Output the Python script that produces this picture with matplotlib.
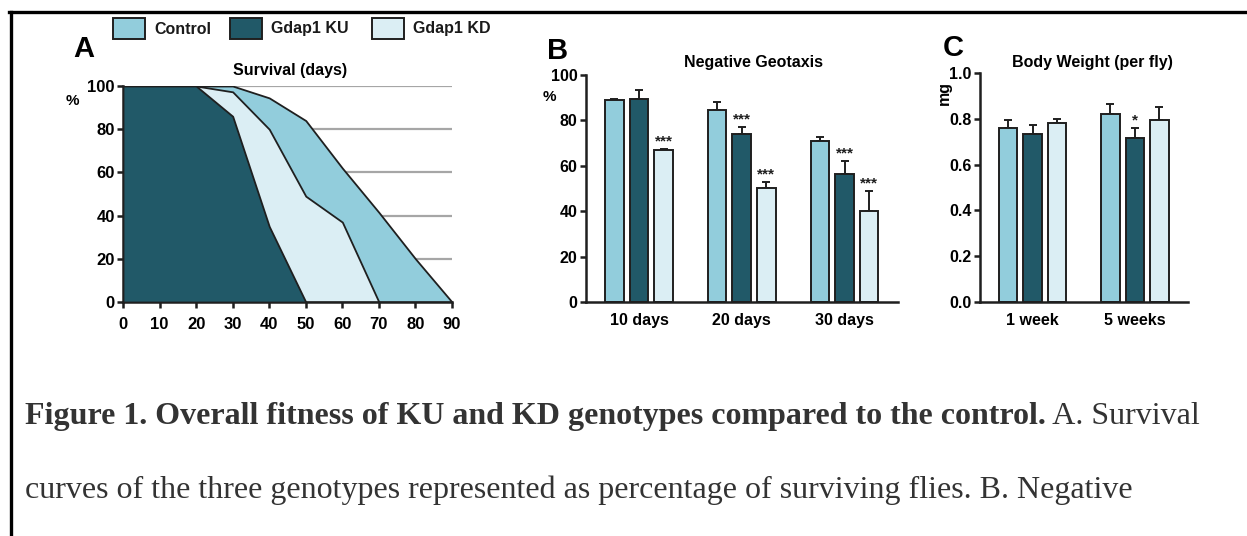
import matplotlib
matplotlib.use("Agg")
import matplotlib.pyplot as plt
import numpy as np
from matplotlib.lines import Line2D
from matplotlib.patches import Rectangle

W, H = 1247, 536

# colours
c_ctrl = "#92cddc"
c_ku = "#215968"
c_kd = "#dbeef4"
c_edge = "#1f1f1f"

genotypes = ["Control", "Gdap1 KU", "Gdap1 KD"]
colors = [c_ctrl, c_ku, c_kd]

# A. survival (% alive vs days)
surv_days = [0, 10, 20, 30, 40, 50, 60, 70, 80, 90]
surv_ctrl = [100, 100, 100, 100, 94.5, 84, 62, 41.5, 20, 0]
surv_ku = [100, 100, 100, 86, 35, 0]
surv_ku_days = [0, 10, 20, 30, 40, 50]
surv_kd = [100, 100, 100, 97.3, 80, 49, 37, 0]
surv_kd_days = [0, 10, 20, 30, 40, 50, 60, 70]

# B. negative geotaxis
geo_groups = ["10 days", "20 days", "30 days"]
geo_mean = {"Control": [89.2, 84.8, 70.9],
            "Gdap1 KU": [89.5, 73.8, 56.6],
            "Gdap1 KD": [66.9, 50.4, 40.0]}
geo_err = {"Control": [0.4, 3.4, 1.9],
           "Gdap1 KU": [3.9, 3.4, 5.3],
           "Gdap1 KD": [0.4, 2.6, 9.0]}
geo_stars = {"Control": ["", "", ""],
             "Gdap1 KU": ["", "***", "***"],
             "Gdap1 KD": ["***", "***", "***"]}

# C. body weight
bw_groups = ["1 week", "5 weeks"]
bw_mean = {"Control": [0.762, 0.823],
           "Gdap1 KU": [0.732, 0.716],
           "Gdap1 KD": [0.782, 0.793]}
bw_err = {"Control": [0.034, 0.042],
          "Gdap1 KU": [0.042, 0.045],
          "Gdap1 KD": [0.015, 0.058]}
bw_stars = {"Control": ["", ""],
            "Gdap1 KU": ["", "*"],
            "Gdap1 KD": ["", ""]}

plt.rcParams["font.family"] = ["Liberation Sans", "DejaVu Sans"]
plt.rcParams["font.weight"] = "bold"

fig = plt.figure(figsize=(W / 100, H / 100), dpi=100)


def box(x0, y0, x1, y1):
    return [x0 / W, 1 - y1 / H, (x1 - x0) / W, (y1 - y0) / H]


def style_axes(ax, fs=10):
    for s in ["top", "right"]:
        ax.spines[s].set_visible(False)
    for s in ["left", "bottom"]:
        ax.spines[s].set_linewidth(1.8)
        ax.spines[s].set_color(c_edge)
    ax.tick_params(width=1.8, length=4, color=c_edge, labelsize=fs, pad=2)
    for lab in ax.get_xticklabels() + ax.get_yticklabels():
        lab.set_fontweight("bold")


# ---- panel A
axA = fig.add_axes(box(123, 86, 452, 302))
for yv in [20, 40, 60, 80, 100]:
    axA.axhline(yv, color="#a6a6a6", lw=1.6, zorder=0)
axA.fill_between(surv_days, surv_ctrl, 0, facecolor=c_ctrl, edgecolor=c_edge, lw=1.3, zorder=1)
axA.fill_between(surv_kd_days, surv_kd, 0, facecolor=c_kd, edgecolor=c_edge, lw=1.3, zorder=2)
axA.fill_between(surv_ku_days, surv_ku, 0, facecolor=c_ku, edgecolor=c_edge, lw=1.3, zorder=3)
axA.set_xlim(0, 90)
axA.set_ylim(0, 100)
axA.set_xticks(range(0, 91, 10))
axA.set_yticks(range(0, 101, 20))
style_axes(axA, 12)
axA.tick_params(axis="x", pad=7)
fig.text(290 / W, 1 - 70 / H, "Survival (days)", fontsize=11.5, fontweight="bold",
         ha="center", va="center")

# ---- bar panels


def bar_panel(rect, groups, means, errs, stars, ylim, yticks, yfmt, fs):
    ax = fig.add_axes(rect)
    x = np.arange(len(groups))
    bw = 0.18
    step = 0.24
    for i, g in enumerate(genotypes):
        xs = x + (i - 1) * step
        ax.bar(xs, means[g], width=bw, color=colors[i], edgecolor=c_edge, lw=1.4, zorder=2)
        ax.errorbar(xs, means[g], yerr=[np.zeros(len(groups)), errs[g]], fmt="none",
                    ecolor=c_edge, elinewidth=1.4, capsize=3, capthick=1.4, zorder=1)
        for xi, m, e, s in zip(xs, means[g], errs[g], stars[g]):
            if s:
                ax.text(xi, m + e + (ylim[1] - ylim[0]) * 0.003, s, ha="center", va="bottom",
                        fontsize=11, fontweight="bold", color=c_edge)
    ax.set_xlim(-0.515, len(groups) - 1 + 0.52)
    ax.set_ylim(*ylim)
    ax.set_yticks(yticks)
    ax.set_yticklabels([yfmt.format(v) for v in yticks])
    ax.set_xticks(x)
    ax.set_xticklabels(groups)
    style_axes(ax, fs)
    ax.tick_params(axis="x", length=0, pad=8)
    return ax


axB = bar_panel(box(586, 75, 898, 302), geo_groups, geo_mean, geo_err, geo_stars,
                (0, 100), list(range(0, 101, 20)), "{:d}", 11.5)
axC = bar_panel(box(980, 73, 1188, 302), bw_groups, bw_mean, bw_err, bw_stars,
                (0, 1.0), [0.0, 0.2, 0.4, 0.6, 0.8, 1.0], "{:.1f}", 11.5)
fig.text(753 / W, 1 - 63 / H, "Negative Geotaxis", fontsize=11.5, fontweight="bold",
         ha="center", va="center")
fig.text(1092 / W, 1 - 63 / H, "Body Weight (per fly)", fontsize=11.5, fontweight="bold",
         ha="center", va="center")

# axis unit labels
fig.text(72 / W, 1 - 101 / H, "%", fontsize=11, fontweight="bold", ha="center", va="center")
fig.text(549 / W, 1 - 97 / H, "%", fontsize=11, fontweight="bold", ha="center", va="center")
fig.text(944 / W, 1 - 93 / H, "mg", fontsize=11.5, fontweight="bold", ha="center", va="center",
         rotation=90)

# panel letters
fig.text(84 / W, 1 - 49 / H, "A", fontsize=21, fontweight="bold", ha="center", va="center")
fig.text(558 / W, 1 - 51 / H, "B", fontsize=21, fontweight="bold", ha="center", va="center")
fig.text(953 / W, 1 - 48 / H, "C", fontsize=21, fontweight="bold", ha="center", va="center")

# legend
leg_x = [113, 230, 372]
for i, g in enumerate(genotypes):
    fig.patches.append(Rectangle((leg_x[i] / W, 1 - 39 / H), 32 / W, 21 / H,
                                 transform=fig.transFigure, facecolor=colors[i],
                                 edgecolor=c_edge, lw=1.4))
    fig.text((leg_x[i] + 41) / W, 1 - 29 / H, g, fontsize=11.5, fontweight="bold",
             ha="left", va="center", color="#1a1a1a")

# border lines
fig.add_artist(Line2D([10.5 / W, 10.5 / W], [0, 1 - 12 / H], transform=fig.transFigure,
                      color="black", lw=2.4))
fig.add_artist(Line2D([9.3 / W, 1], [1 - 12 / H, 1 - 12 / H], transform=fig.transFigure,
                      color="black", lw=2.4))

# caption
cap_col = "#333333"
serif = ["Liberation Serif", "DejaVu Serif"]
cap_fs = 23
t1 = fig.text(25 / W, 1 - 424 / H, "Figure 1. Overall fitness of KU and KD genotypes compared to the control.",
              fontsize=cap_fs, fontweight="bold", family=serif, color=cap_col, ha="left", va="baseline")
fig.canvas.draw()
bb = t1.get_window_extent(renderer=fig.canvas.get_renderer())
fig.text(bb.x1 / W, 1 - 424 / H, " A. Survival", fontsize=cap_fs, fontweight="normal",
         family=serif, color=cap_col, ha="left", va="baseline")
fig.text(25 / W, 1 - 498 / H, "curves of the three genotypes represented as percentage of surviving flies. B. Negative",
         fontsize=cap_fs, fontweight="normal", family=serif, color=cap_col, ha="left", va="baseline")

fig.savefig("out.png", dpi=100, facecolor="white")
